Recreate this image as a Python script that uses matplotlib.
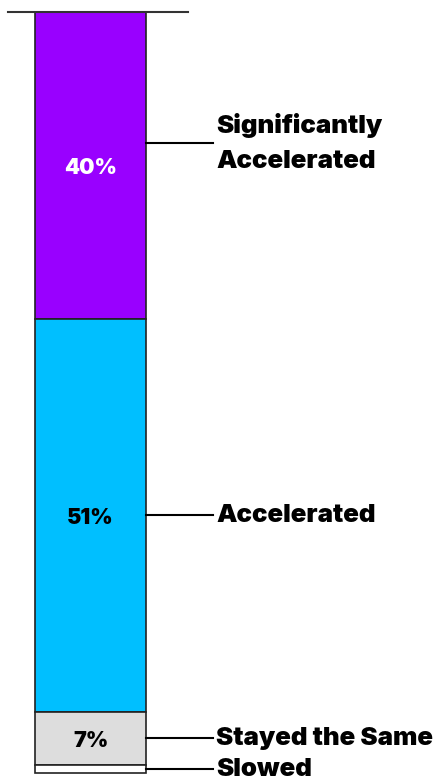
import matplotlib.pyplot as plt

# data
categories = ["Significantly\nAccelerated", "Accelerated", "Stayed the Same", "Slowed"]
values = [40, 51, 7, 1]
pct_labels = ["40%", "51%", "7%", ""]
colors = ["#9900FF", "#00BFFF", "#DDDDDD", "#FFFFFF"]
text_colors = ["white", "black", "black", "black"]

fig = plt.figure(figsize=(4.38, 7.84), dpi=100)
ax = fig.add_axes([0, 0, 1, 1])
ax.set_xlim(0, 438)
ax.set_ylim(100.43, -1.56)
ax.axis("off")

bar_x = 90.5
bar_w = 111
label_shift = [-3.0, 0, 0, 0]  # first callout sits above segment middle

bottom = 0
for cat, v, pl, c, tc, sh in zip(categories, values, pct_labels, colors, text_colors, label_shift):
    ax.bar(bar_x, v, bottom=bottom, width=bar_w, color=c, edgecolor="#222222", linewidth=1.2)
    mid = bottom + v / 2
    if pl:
        ax.text(bar_x, mid + 0.3, pl, ha="center", va="center", color=tc,
                fontsize=15.5, fontweight=900, family="Inter")
    ly = mid + sh
    ax.plot([bar_x + bar_w / 2, 213], [ly, ly], color="black", lw=1.5)
    ax.text(216, ly, cat, ha="left", va="center", fontsize=18.6, fontweight=900,
            family="Inter", linespacing=1.65)
    bottom += v

ax.plot([8, 188], [0, 0], color="#333333", lw=1.5)

fig.savefig("out.png", dpi=100)
